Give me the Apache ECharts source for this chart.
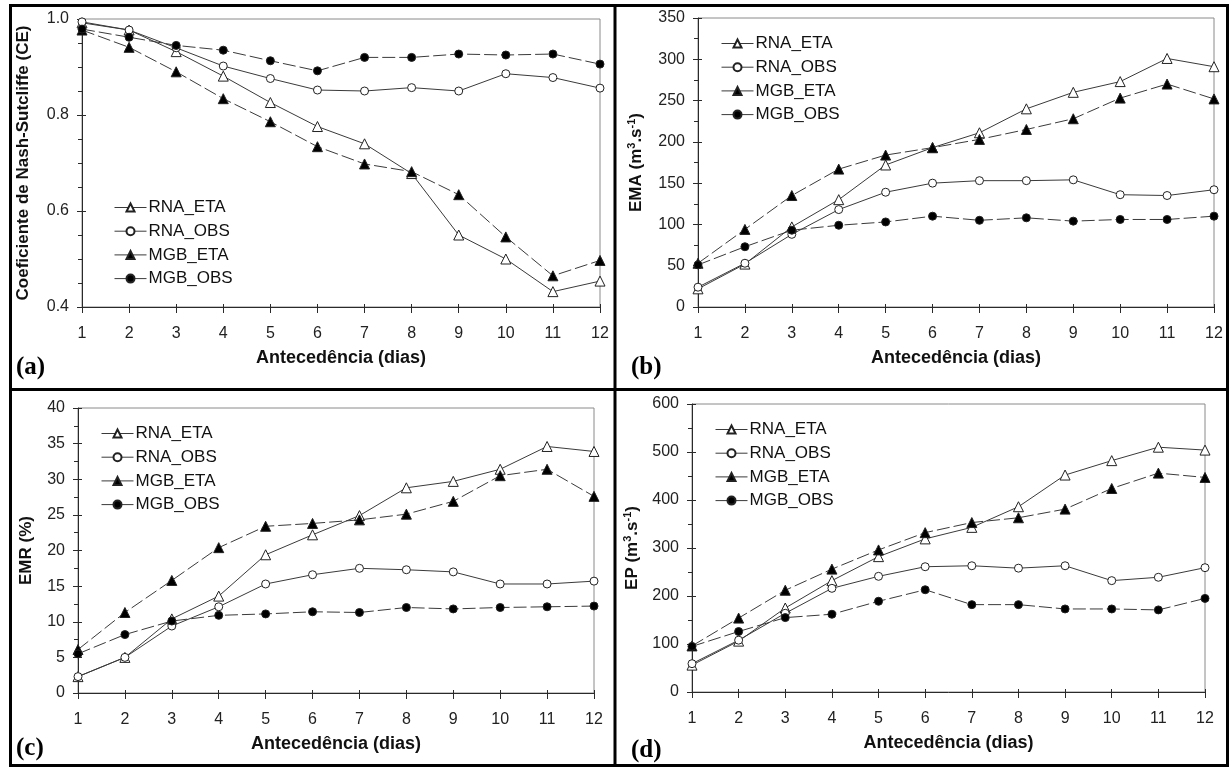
<!DOCTYPE html>
<html>
<head>
<meta charset="utf-8">
<script src="https://cdn.jsdelivr.net/npm/echarts@6/dist/echarts.min.js"></script>
<style>
html,body{margin:0;padding:0;background:#fff;}
#chart{width:1231px;height:769px;}
</style>
</head>
<body>
<div id="chart"></div>
<script>
// ---- data ----
const days = [1, 2, 3, 4, 5, 6, 7, 8, 9, 10, 11, 12];
const seriesNames = ['RNA_ETA', 'RNA_OBS', 'MGB_ETA', 'MGB_OBS'];

const ce_RNA_ETA = [0.992, 0.977, 0.932, 0.881, 0.826, 0.776, 0.740, 0.678, 0.550, 0.500, 0.432, 0.454];
const ce_RNA_OBS = [0.994, 0.977, 0.940, 0.902, 0.876, 0.852, 0.850, 0.857, 0.850, 0.886, 0.878, 0.856];
const ce_MGB_ETA = [0.977, 0.941, 0.890, 0.834, 0.786, 0.734, 0.698, 0.682, 0.634, 0.546, 0.465, 0.497];
const ce_MGB_OBS = [0.979, 0.962, 0.945, 0.935, 0.913, 0.892, 0.920, 0.920, 0.927, 0.925, 0.927, 0.906];

const ema_RNA_ETA = [22, 52, 97, 130, 172, 193, 211, 240, 260, 273, 301, 291];
const ema_RNA_OBS = [24, 53, 88, 118, 139, 150, 153, 153, 154, 136, 135, 142];
const ema_MGB_ETA = [53, 94, 135, 167, 184, 193, 203, 215, 228, 253, 270, 252];
const ema_MGB_OBS = [51, 73, 93, 99, 103, 110, 105, 108, 104, 106, 106, 110];

const emr_RNA_ETA = [2.3, 5.0, 10.4, 13.6, 19.4, 22.2, 24.9, 28.8, 29.7, 31.4, 34.6, 33.9];
const emr_RNA_OBS = [2.3, 5.0, 9.4, 12.1, 15.3, 16.6, 17.5, 17.3, 17.0, 15.3, 15.3, 15.7];
const emr_MGB_ETA = [6.1, 11.3, 15.8, 20.4, 23.4, 23.8, 24.3, 25.1, 26.9, 30.5, 31.4, 27.6];
const emr_MGB_OBS = [5.5, 8.2, 10.1, 10.9, 11.1, 11.4, 11.3, 12.0, 11.8, 12.0, 12.1, 12.2];

const ep_RNA_ETA = [56, 106, 175, 232, 282, 319, 343, 386, 452, 482, 510, 504];
const ep_RNA_OBS = [59, 108, 164, 216, 241, 261, 263, 258, 263, 232, 239, 259];
const ep_MGB_ETA = [96, 154, 212, 256, 296, 332, 353, 363, 381, 424, 456, 447];
const ep_MGB_OBS = [95, 126, 155, 162, 189, 213, 182, 182, 173, 173, 171, 195];

const xTitle = 'Antecedência (dias)';
const panelLabels = ['(a)', '(b)', '(c)', '(d)'];

// ---- layout / styling ----
const SANS = '"Liberation Sans", Arial, sans-serif';
const SERIF = '"Liberation Serif", "Times New Roman", serif';
const INK = '#2a2a2a';

const panels = [
  { grid: {left: 82, top: 19, width: 518, height: 288}, min: 0.4, max: 1.0, interval: 0.2, minorSplit: 4,
    fmt: v => v.toFixed(1), name: 'Coeficiente de Nash-Sutcliffe (CE)', nameGap: 50,
    data: [ce_RNA_ETA, ce_RNA_OBS, ce_MGB_ETA, ce_MGB_OBS], legend: {left: 114, top: 199},
    label: {x: 16, y: 368} },
  { grid: {left: 698, top: 18, width: 516, height: 289}, min: 0, max: 350, interval: 50, minorSplit: 2,
    fmt: v => String(v), name: '{b|EMA (m}{sup|3}{b|.s}{sup|-1}{b|)}', nameGap: 52,
    data: [ema_RNA_ETA, ema_RNA_OBS, ema_MGB_ETA, ema_MGB_OBS], legend: {left: 721, top: 35},
    label: {x: 631, y: 368} },
  { grid: {left: 78, top: 408, width: 516, height: 285}, min: 0, max: 40, interval: 5, minorSplit: 2,
    fmt: v => String(v), name: 'EMR (%)', nameGap: 43,
    data: [emr_RNA_ETA, emr_RNA_OBS, emr_MGB_ETA, emr_MGB_OBS], legend: {left: 101, top: 425},
    label: {x: 16, y: 749} },
  { grid: {left: 692, top: 404, width: 513, height: 288}, min: 0, max: 600, interval: 100, minorSplit: 2,
    fmt: v => String(v), name: '{b|EP (m}{sup|3}{b|.s}{sup|-1}{b|)}', nameGap: 50,
    data: [ep_RNA_ETA, ep_RNA_OBS, ep_MGB_ETA, ep_MGB_OBS], legend: {left: 715, top: 421},
    label: {x: 631, y: 751} }
];

const seriesStyles = [
  {symbol: 'triangle', symbolSize: 10, fill: '#ffffff', dash: 'solid'},
  {symbol: 'circle', symbolSize: 8, fill: '#ffffff', dash: 'solid'},
  {symbol: 'triangle', symbolSize: 10, fill: '#000000', dash: [13, 4]},
  {symbol: 'circle', symbolSize: 8, fill: '#000000', dash: [13, 4]}
];

const grids = [], xAxes = [], yAxes = [], series = [], legends = [], graphics = [];

panels.forEach((p, i) => {
  grids.push(Object.assign({show: true, borderColor: '#8a8a8a', borderWidth: 1, backgroundColor: '#fff'}, p.grid));

  // main x axis
  xAxes.push({
    gridIndex: i, type: 'value', min: 1, max: 12, interval: 1,
    axisLine: {show: true, lineStyle: {color: INK, width: 1}},
    axisTick: {show: true, length: 6, lineStyle: {color: INK}},
    axisLabel: {margin: 19, fontSize: 16, color: '#222', fontFamily: SANS},
    splitLine: {show: false},
    name: xTitle, nameLocation: 'middle', nameGap: 42,
    nameTextStyle: {fontWeight: 'bold', fontSize: 18, color: '#111', fontFamily: SANS}
  });
  // inside tick marks (ticks cross the axis)
  xAxes.push({
    gridIndex: i, type: 'value', min: 1, max: 12, interval: 1, position: 'bottom',
    axisLine: {show: false},
    axisTick: {show: true, inside: true, length: 3, lineStyle: {color: INK}},
    axisLabel: {show: false}, splitLine: {show: false}
  });

  yAxes.push({
    gridIndex: i, type: 'value', min: p.min, max: p.max, interval: p.interval,
    axisLine: {show: true, lineStyle: {color: INK, width: 1}},
    axisTick: {show: true, length: 5, lineStyle: {color: INK}},
    minorTick: {show: true, splitNumber: p.minorSplit, length: 4, lineStyle: {color: INK}},
    axisLabel: {margin: 13, fontSize: 16, color: '#222', fontFamily: SANS, formatter: p.fmt},
    splitLine: {show: false},
    name: p.name, nameLocation: 'middle', nameGap: p.nameGap,
    nameTextStyle: {
      fontWeight: 'bold', fontSize: 17, color: '#111', fontFamily: SANS,
      rich: {
        b: {fontWeight: 'bold', fontSize: 17, color: '#111', fontFamily: SANS, lineHeight: 20},
        sup: {fontWeight: 'bold', fontSize: 11, color: '#111', fontFamily: SANS, lineHeight: 11, verticalAlign: 'top'}
      }
    }
  });
  yAxes.push({
    gridIndex: i, type: 'value', min: p.min, max: p.max, interval: p.interval, position: 'left',
    axisLine: {show: false},
    axisTick: {show: true, inside: true, length: 4, lineStyle: {color: INK}},
    axisLabel: {show: false}, splitLine: {show: false}
  });

  p.data.forEach((vals, k) => {
    const st = seriesStyles[k];
    series.push({
      name: seriesNames[k], type: 'line',
      xAxisIndex: i * 2, yAxisIndex: i * 2,
      data: days.map((d, j) => [d, vals[j]]),
      symbol: st.symbol, symbolSize: st.symbolSize,
      itemStyle: {color: st.fill, borderColor: '#222', borderWidth: 1},
      lineStyle: {color: '#3a3a3a', width: 1, type: st.dash},
      z: 3 + k
    });
  });

  legends.push({
    orient: 'vertical', left: p.legend.left, top: p.legend.top, padding: 0,
    itemWidth: 32, itemHeight: 10, itemGap: 6.7,
    selectedMode: false,
    textStyle: {fontSize: 17, color: '#111', fontFamily: SANS, padding: [0, 0, 0, -3]},
    lineStyle: {type: 'solid', color: '#3a3a3a', width: 1},
    data: seriesNames.slice()
  });

  graphics.push({
    type: 'text', left: p.label.x, top: p.label.y - 13,
    style: {text: panelLabels[i], font: 'bold 25px ' + SERIF, fill: '#000'}
  });
});

// panel frame lines
graphics.push({type: 'rect', shape: {x: 10.5, y: 5.5, width: 1217, height: 760}, style: {fill: 'none', stroke: '#000', lineWidth: 3}, z: 100});
graphics.push({type: 'line', shape: {x1: 615, y1: 5, x2: 615, y2: 766}, style: {stroke: '#000', lineWidth: 3}, z: 100});
graphics.push({type: 'line', shape: {x1: 10, y1: 389.5, x2: 1228, y2: 389.5}, style: {stroke: '#000', lineWidth: 3}, z: 100});

const chart = echarts.init(document.getElementById('chart'), null, {renderer: 'canvas'});
chart.setOption({
  animation: false,
  backgroundColor: '#ffffff',
  grid: grids,
  xAxis: xAxes,
  yAxis: yAxes,
  legend: legends,
  series: series,
  graphic: graphics
});
</script>
</body>
</html>
